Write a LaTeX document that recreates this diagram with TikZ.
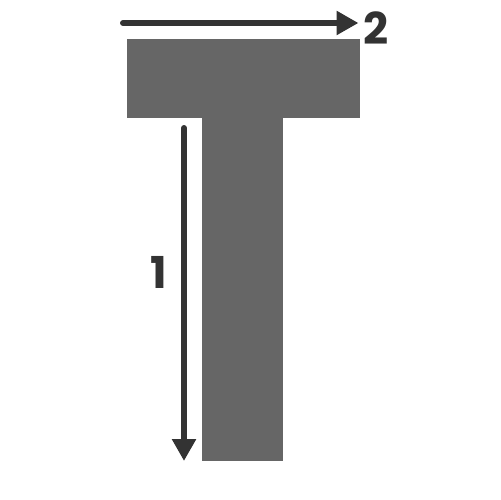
\documentclass[tikz,border=0pt]{standalone}
\usepackage{fontspec}
\setmainfont{Poppins}
\usetikzlibrary{arrows.meta}
\definecolor{tgray}{HTML}{666666}
\definecolor{adark}{HTML}{333333}
\tikzset{
  part/.style={fill=tgray, draw=none},
  arr/.style={draw=adark, line width=1.2mm, line cap=round, -{Triangle[length=4.4mm,width=4.6mm]}},
  lbl/.style={text=adark, font=\fontsize{25}{25}\selectfont\bfseries, inner sep=0pt}
}
\begin{document}
\begin{tikzpicture}[x=0.02cm,y=-0.02cm]
\useasboundingbox (0,0) rectangle (500,500);
\fill[part] (126.5,39) rectangle (360,117.5);
\fill[part] (201.5,117) rectangle (283,461);
\coordinate (a1s) at (184,128);
\coordinate (a1e) at (184,461);
\coordinate (a2s) at (123,23);
\coordinate (a2e) at (358.5,23);
\draw[arr] (a1s) -- (a1e);
\draw[arr] (a2s) -- (a2e);
\node[lbl] (l1) at (158.5,272.5) {1};
\node[lbl] (l2) at (376.5,28.5) {2};
\end{tikzpicture}
\end{document}
